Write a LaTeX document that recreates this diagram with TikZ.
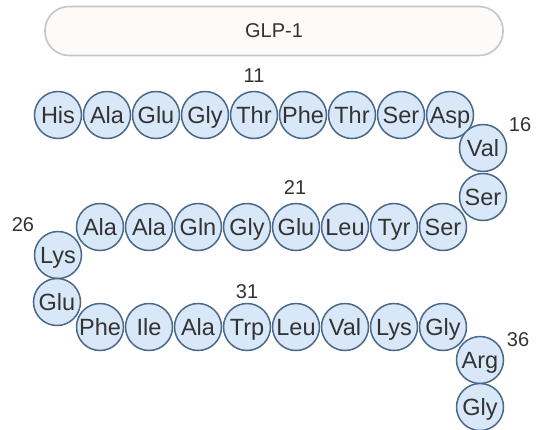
\documentclass[tikz,border=0pt]{standalone}
\usepackage{fontspec}
\setmainfont{Liberation Sans}
\definecolor{resfill}{HTML}{D8E8F8}
\definecolor{resdraw}{HTML}{4A6888}
\definecolor{txt}{HTML}{333333}
\definecolor{pillfill}{HTML}{FDFAF7}
\definecolor{pilldraw}{HTML}{C6C6C6}
\begin{document}
\begin{tikzpicture}[x=1pt,y=-1pt,
  res/.style={circle,draw=resdraw,fill=resfill,line width=1.5pt,minimum size=47pt,inner sep=0pt,
    text height=17pt,text depth=0.5pt,
    text=txt,font=\fontsize{23.5}{23.5}\selectfont},
  num/.style={text=txt,font=\fontsize{20}{20}\selectfont,inner sep=0pt},
  pill/.style={draw=pilldraw,fill=pillfill,line width=1.6pt,rounded corners=24pt,minimum width=458pt,minimum height=49pt,
    text=txt,font=\fontsize{20}{20}\selectfont}]
\useasboundingbox (0,0) rectangle (537,429);
\fill[white] (0,0) rectangle (537,429);
\node[pill] (title) at (274,31) {GLP-1};
% row 1
\node[res] (r7) at (58,115) {His};
\node[res] (r8) at (107,115) {Ala};
\node[res] (r9) at (156,115) {Glu};
\node[res] (r10) at (205,115) {Gly};
\node[res] (r11) at (254,115) {Thr};
\node[res] (r12) at (303,115) {Phe};
\node[res] (r13) at (352,115) {Thr};
\node[res] (r14) at (401,115) {Ser};
\node[res] (r15) at (450,115) {Asp};
\node[res] (r16) at (483,148) {Val};
\node[res] (r17) at (483,197) {Ser};
% row 2
\node[res] (r18) at (443,227) {Ser};
\node[res] (r19) at (394,227) {Tyr};
\node[res] (r20) at (345,227) {Leu};
\node[res] (r21) at (296,227) {Glu};
\node[res] (r22) at (247,227) {Gly};
\node[res] (r23) at (198,227) {Gln};
\node[res] (r24) at (149,227) {Ala};
\node[res] (r25) at (100,227) {Ala};
\node[res] (r26) at (58,255) {Lys};
\node[res] (r27) at (57,302) {Glu};
% row 3
\node[res] (r28) at (100,327) {Phe};
\node[res] (r29) at (149,327) {Ile};
\node[res] (r30) at (198,327) {Ala};
\node[res] (r31) at (247,327) {Trp};
\node[res] (r32) at (296,327) {Leu};
\node[res] (r33) at (345,327) {Val};
\node[res] (r34) at (394,327) {Lys};
\node[res] (r35) at (443,327) {Gly};
\node[res] (r36) at (480,360) {Arg};
\node[res] (r37) at (480,407) {Gly};
% labels
\node[num] (n11) at (254,76) {11};
\node[num] (n16) at (520,125) {16};
\node[num] (n21) at (295,188) {21};
\node[num] (n26) at (23,225) {26};
\node[num] (n31) at (247,292) {31};
\node[num] (n36) at (518,340) {36};
\end{tikzpicture}
\end{document}
